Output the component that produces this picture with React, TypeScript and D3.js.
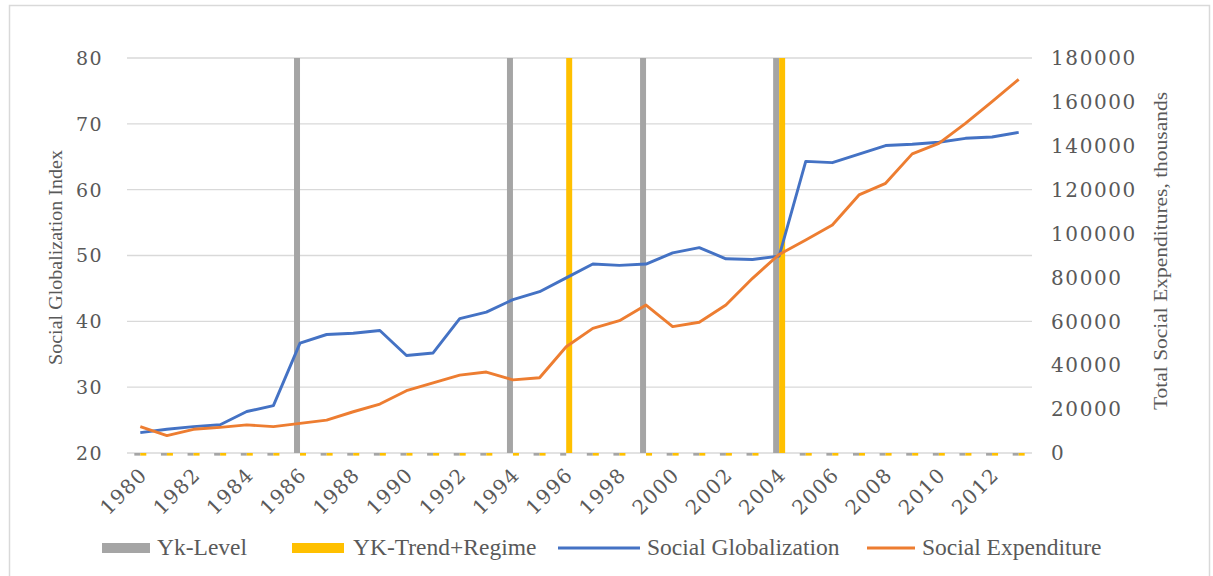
import * as d3 from "d3";

const YEARS = [
  "1980", "1981", "1982", "1983", "1984", "1985", "1986", "1987", "1988", "1989",
  "1990", "1991", "1992", "1993", "1994", "1995", "1996", "1997", "1998", "1999",
  "2000", "2001", "2002", "2003", "2004", "2005", "2006", "2007", "2008", "2009",
  "2010", "2011", "2012", "2013",
];

// break indicators: full height in break years, tiny stub otherwise
const YK_LEVEL = [
  19.6, 19.6, 19.6, 19.6, 19.6, 19.6, 80, 19.6, 19.6, 19.6,
  19.6, 19.6, 19.6, 19.6, 80, 19.6, 19.6, 19.6, 19.6, 80,
  19.6, 19.6, 19.6, 19.6, 80, 19.6, 19.6, 19.6, 19.6, 19.6,
  19.6, 19.6, 19.6, 19.6,
];
const YK_TREND = [
  19.6, 19.6, 19.6, 19.6, 19.6, 19.6, 19.6, 19.6, 19.6, 19.6,
  19.6, 19.6, 19.6, 19.6, 19.6, 19.6, 80, 19.6, 19.6, 19.6,
  19.6, 19.6, 19.6, 19.6, 80, 19.6, 19.6, 19.6, 19.6, 19.6,
  19.6, 19.6, 19.6, 19.6,
];

const SOCIAL_GLOB = [
  23.1, 23.6, 24.0, 24.3, 26.3, 27.2, 36.7, 38.0, 38.2, 38.6,
  34.8, 35.2, 40.4, 41.4, 43.3, 44.5, 46.6, 48.7, 48.5, 48.7,
  50.4, 51.2, 49.5, 49.4, 49.9, 64.3, 64.1, 65.4, 66.7, 66.9,
  67.2, 67.8, 68.0, 68.7,
];
const SOCIAL_EXP = [
  12000, 7900, 10800, 11700, 12800, 12000, 13500, 15000, 18800, 22300,
  28400, 32000, 35500, 36900, 33300, 34300, 48400, 56800, 60300, 67400,
  57600, 59600, 67400, 79600, 90500, 97100, 103900, 117600, 122900, 136300,
  141100, 150200, 160100, 170300,
];

const LEFT_TICKS = [20, 30, 40, 50, 60, 70, 80];
const RIGHT_TICKS = [0, 20000, 40000, 60000, 80000, 100000, 120000, 140000, 160000, 180000];
const X_LABELS = ["1980", "1982", "1984", "1986", "1988", "1990", "1992", "1994", "1996", "1998", "2000", "2002", "2004", "2006", "2008", "2010", "2012"];

const GRAY = "#A5A5A5";
const YELLOW = "#FFC000";
const BLUE = "#4472C4";
const ORANGE = "#ED7D31";
const TXT = "#595959";
const NUM_FONT = "DejaVu Serif";
const TXT_FONT = "Liberation Serif";

export default function App() {
  const W = 1213, H = 576;
  const m = { left: 127, right: 1032, top: 58, bottom: 453 };

  const x = d3.scaleBand().domain(YEARS).range([m.left, m.right]).padding(0);
  const bw = x.bandwidth();
  const sub = d3.scaleBand().domain(["level", "trend"]).range([0, bw]).paddingInner(0).paddingOuter(1.22);
  const yL = d3.scaleLinear().domain([20, 80]).range([m.bottom, m.top]);
  const yR = d3.scaleLinear().domain([0, 180000]).range([m.bottom, m.top]);
  const cx = (i: number) => (x(YEARS[i]) ?? 0) + bw / 2;

  const globLine = d3.line<number>().x((_, i) => cx(i)).y((d) => yL(d));
  const expLine = d3.line<number>().x((_, i) => cx(i)).y((d) => yR(d));

  const bar = (vals: number[], key: string, color: string) =>
    vals.map((v, i) => {
      const y0 = yL(20), y1 = yL(v);
      return (
        <rect key={key + i} x={(x(YEARS[i]) ?? 0) + (sub(key) ?? 0)} width={sub.bandwidth()}
          y={Math.min(y0, y1)} height={Math.abs(y1 - y0)} fill={color} />
      );
    });

  return (
    <svg width={W} height={H} style={{ display: "block", position: "absolute", left: 0, top: 0 }}>
      <rect x={0} y={0} width={W} height={H} fill="#fff" />
      <rect x={9.5} y={5.5} width={1200} height={600} fill="none" stroke="#d9d9d9" strokeWidth={1.5} />

      {/* gridlines */}
      {LEFT_TICKS.map((t) => (
        <line key={t} x1={m.left} x2={m.right} y1={yL(t)} y2={yL(t)} stroke="#d9d9d9" strokeWidth={1.3} />
      ))}

      {/* break bars */}
      {bar(YK_LEVEL, "level", GRAY)}
      {bar(YK_TREND, "trend", YELLOW)}

      {/* lines */}
      <path d={globLine(SOCIAL_GLOB) ?? ""} fill="none" stroke={BLUE} strokeWidth={2.9} strokeLinejoin="round" />
      <path d={expLine(SOCIAL_EXP) ?? ""} fill="none" stroke={ORANGE} strokeWidth={2.9} strokeLinejoin="round" />

      {/* left ticks */}
      {LEFT_TICKS.map((t) => (
        <text key={t} x={103} y={yL(t)} dy="0.36em" textAnchor="end" fontFamily={NUM_FONT}
          fontSize={19} letterSpacing={1.4} fill={TXT}>{t}</text>
      ))}
      {/* right ticks */}
      {RIGHT_TICKS.map((t) => (
        <text key={t} x={1051} y={yR(t)} dy="0.36em" textAnchor="start" fontFamily={NUM_FONT}
          fontSize={20} letterSpacing={1.6} fill={TXT}>{t}</text>
      ))}
      {/* x labels */}
      {X_LABELS.map((lab) => (
        <text key={lab} transform={`translate(${(x(lab) ?? 0) + bw / 2 + 3},${471}) rotate(-45)`}
          textAnchor="end" dy="0.36em" fontFamily={NUM_FONT} fontSize={20} letterSpacing={1.4} fill={TXT}>{lab}</text>
      ))}

      {/* axis titles */}
      <text transform="translate(62,257.5) rotate(-90)" textAnchor="middle" fontFamily={TXT_FONT}
        fontSize={19} fill={TXT} textLength={215} lengthAdjust="spacingAndGlyphs">Social Globalization Index</text>
      <text transform="translate(1167,251) rotate(-90)" textAnchor="middle" fontFamily={TXT_FONT}
        fontSize={19} fill={TXT} textLength={318} lengthAdjust="spacingAndGlyphs">Total Social Expenditures, thousands</text>

      {/* legend */}
      <g fontFamily={TXT_FONT} fontSize={23.5} fill={TXT}>
        <rect x={102} y={543} width={48} height={10} fill={GRAY} />
        <text x={157} y={555}>Yk-Level</text>
        <rect x={292} y={543} width={52} height={10} fill={YELLOW} />
        <text x={353} y={555}>YK-Trend+Regime</text>
        <line x1={558} x2={640} y1={548} y2={548} stroke={BLUE} strokeWidth={2.9} />
        <text x={647} y={555}>Social Globalization</text>
        <line x1={867} x2={915} y1={548} y2={548} stroke={ORANGE} strokeWidth={2.9} />
        <text x={922} y={555}>Social Expenditure</text>
      </g>
    </svg>
  );
}
